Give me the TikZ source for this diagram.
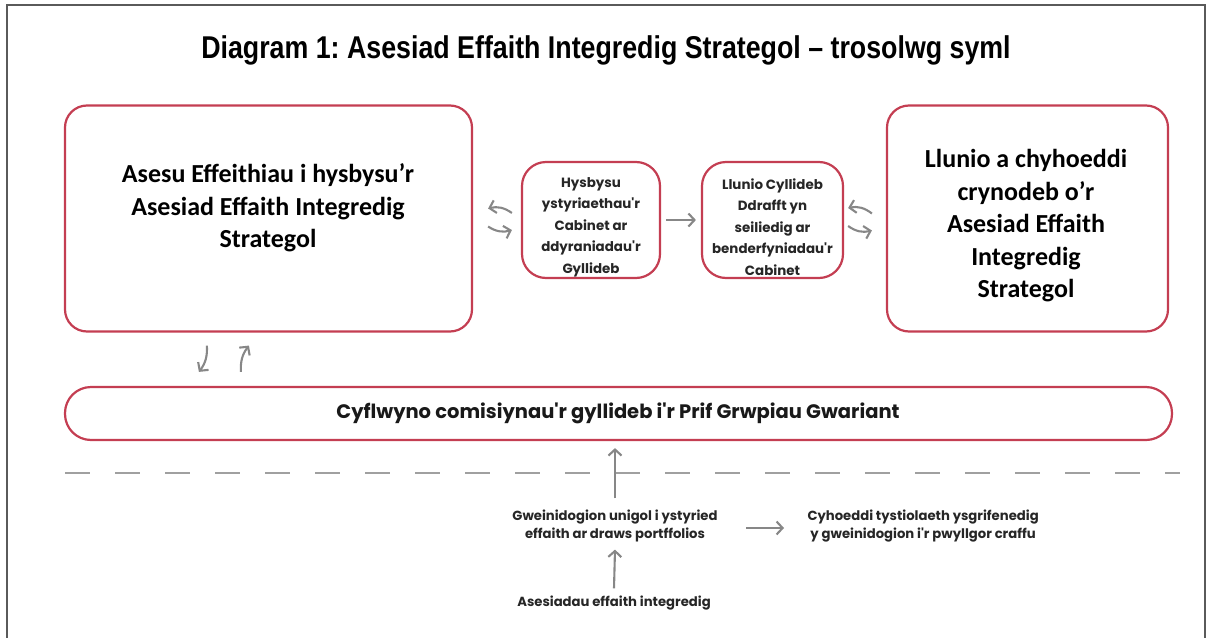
\documentclass[tikz,border=0pt]{standalone}
\usepackage{fontspec}
\usetikzlibrary{arrows.meta,calc}
\newfontfamily\calb{Carlito}
\newfontfamily\geo{Poppins}
\newfontfamily\titlef[FakeStretch=0.85]{Liberation Sans Bold}
\definecolor{boxred}{RGB}{196,62,82}
\definecolor{arrgray}{RGB}{135,135,135}
\definecolor{dashgray}{RGB}{160,160,160}
\definecolor{framegray}{RGB}{90,90,90}
\tikzset{
  redbox/.style={draw=boxred, line width=2.2pt, fill=white, inner sep=0pt},
  bigtxt/.style={font=\calb\bfseries\fontsize{26}{32.5}\selectfont, align=center, text=black},
  midtxt/.style={font=\geo\bfseries\fontsize{13.4}{21.5}\selectfont, align=center, text=black!85},
  bartxt/.style={font=\geo\bfseries\fontsize{19.5}{22}\selectfont, text=black!90},
  smalltxt/.style={font=\geo\fontsize{13.2}{18}\selectfont\bfseries, align=center, text=black!85},
  garrow/.style={draw=arrgray, line width=2.1pt, -{Straight Barb[length=6pt,width=13pt]}},
}
\frenchspacing
\begin{document}
\begin{tikzpicture}[x=1pt,y=-1pt]
\useasboundingbox (0,0) rectangle (1207,637);
% frame
\coordinate (fbl) at (7,640);
\coordinate (ftl) at (7,5);
\coordinate (ftr) at (1205,5);
\coordinate (fbr) at (1205,640);
\draw[framegray, line width=2pt] (fbl) -- (ftl) -- (ftr) -- (fbr);
% title
\node[font=\titlef\fontsize{31.5}{36}\selectfont, text=black] (title) at (606,50) {Diagram 1: Asesiad Effaith Integredig Strategol – trosolwg syml};
% boxes
\node[redbox, rounded corners=22pt, minimum width=407pt, minimum height=226pt] (lbox) at (268.5,218.5) {};
\node[bigtxt] (ltxt) at (268,208) {Asesu Effeithiau i hysbysu’r\\Asesiad Effaith Integredig\\Strategol};
\node[redbox, rounded corners=22pt, minimum width=281pt, minimum height=226pt] (rbox) at (1027.5,218.5) {};
\node[bigtxt] (rtxt) at (1026,226) {Llunio a chyhoeddi\\crynodeb o’r\\Asesiad Effaith\\Integredig\\Strategol};
\node[redbox, rounded corners=24pt, minimum width=138pt, minimum height=116pt] (box1) at (591,220) {};
\node[midtxt] (t1) at (591,227) {Hysbysu\\ystyriaethau'r\\Cabinet ar\\ddyraniadau'r\\Gyllideb};
\node[redbox, rounded corners=24pt, minimum width=141pt, minimum height=116pt] (box2) at (772.5,220) {};
\node[midtxt] (t2) at (772.5,227) {Llunio Cyllideb\\Ddrafft yn\\seiliedig ar\\benderfyniadau'r\\Cabinet};
\node[redbox, rounded corners=26pt, minimum width=1107pt, minimum height=53pt] (bar) at (618.5,413.5) {};
\node[bartxt] (bartext) at (618,413) {Cyflwyno comisiynau'r gyllideb i'r Prif Grwpiau Gwariant};
% arrows between top boxes
\draw[garrow] ($(box1.west)+(-9,-7)$) to[bend right=25] ($(lbox.east)+(15,-10)$);
\draw[garrow] ($(lbox.east)+(15,8)$) to[bend right=25] ($(box1.west)+(-9,10)$);
\draw[garrow] ($(box1.east)+(5,0)$) -- ($(box2.west)+(-5,0)$);
\draw[garrow] ($(rbox.west)+(-14,-5)$) to[bend right=25] ($(box2.east)+(4,-12)$);
\draw[garrow] ($(box2.east)+(4,6)$) to[bend right=25] ($(rbox.west)+(-14,12)$);
% arrows between left box and bar
\draw[garrow] ($(lbox.south west)+(143,13)$) to[bend left=20] ($(bar.north west)+(135,-14)$);
\draw[garrow] ($(bar.north west)+(177,-14)$) to[bend left=20] ($(lbox.south west)+(185,13)$);
% dashed divider
\coordinate (dl) at (65,473);
\coordinate (dr) at (1180,473);
\draw[dashgray, line width=2pt, dash pattern=on 25pt off 25pt] (dl) -- (dr);
% bottom part
\node[smalltxt] (g) at (615,526) {Gweinidogion unigol i ystyried\\effaith ar draws portffolios};
\node[smalltxt, anchor=west] (c) at (804,526) {Cyhoeddi tystiolaeth ysgrifenedig\\y gweinidogion i'r pwyllgor craffu};
\node[smalltxt] (a) at (614,603) {Asesiadau effaith integredig};
\draw[garrow] ($(g.north)+(0,-8)$) -- ($(bar.south)+(-3.5,7)$);
\draw[garrow] ($(a.north)+(0,-4)$) -- ($(g.south)+(0,4)$);
\draw[garrow] ($(g.east)+(25,2)$) -- ($(c.west)+(-20,2)$);
\end{tikzpicture}
\end{document}
